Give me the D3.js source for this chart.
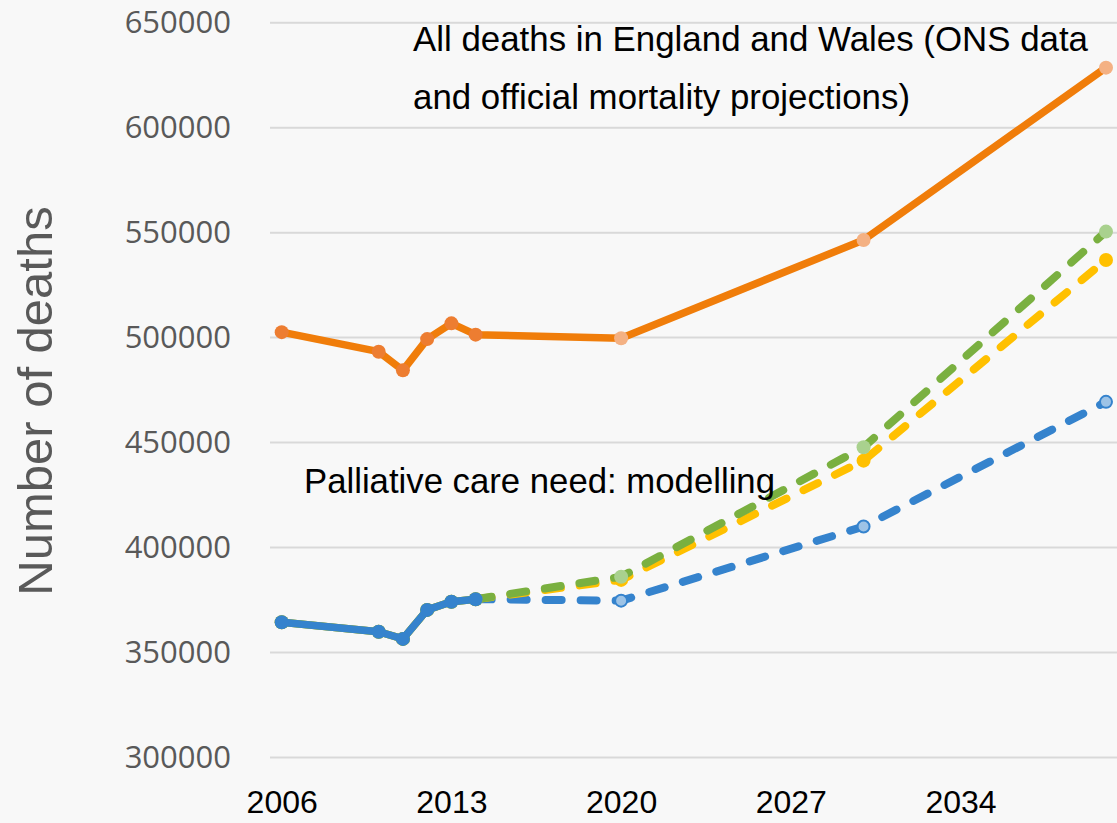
<!DOCTYPE html>
<html><head><meta charset="utf-8">
<script src="https://cdn.jsdelivr.net/npm/d3@7"></script>
<style>
html,body{margin:0;padding:0;background:#f8f8f8;}
svg{display:block;}
</style></head>
<body>
<svg id="chart" width="1117" height="823"></svg>
<script>
// ---- data ----
const histYears = [2006, 2010, 2011, 2012, 2013, 2014];
const allDeathsHist = [502600, 493300, 484400, 499300, 506800, 501400];
const projYears = [2020, 2030, 2040];
const allDeathsProj = [499700, 546500, 628600];
const pcNeedHist = [364400, 359900, 356500, 370300, 374200, 375400];
const modelYears = [2014, 2020, 2030, 2040];
const modelBlue = [375400, 374700, 410000, 469400];
const modelYellow = [375400, 384600, 441400, 537000];
const modelGreen = [375400, 386100, 447800, 550500];
const xTicks = [2006, 2013, 2020, 2027, 2034];
const yTicks = [300000, 350000, 400000, 450000, 500000, 550000, 600000, 650000];
const titleLines = ["All deaths in England and Wales (ONS data", "and official mortality projections)"];
const modelLabel = "Palliative care need: modelling";
const yLabel = "Number of deaths";

// ---- scales ----
const svg = d3.select("#chart");
const x = d3.scaleLinear().domain([2006, 2040]).range([281.7, 1106]);
const y = d3.scaleLinear().domain([300000, 650000]).range([757.5, 22.7]);

svg.append("rect").attr("width", 1117).attr("height", 823).attr("fill", "#f8f8f8");

// gridlines
svg.append("g").selectAll("line").data(yTicks).join("line")
  .attr("x1", 270).attr("x2", 1117)
  .attr("y1", d => y(d)).attr("y2", d => y(d))
  .attr("stroke", "#d9d9d9").attr("stroke-width", 2);

// y axis labels
const yAxis = d3.axisLeft(y).tickValues(yTicks).tickSize(0).tickPadding(0).tickFormat(d3.format("d"));
const gy = svg.append("g").attr("transform", "translate(231,0)").call(yAxis);
gy.select(".domain").remove();
gy.selectAll("text").attr("fill", "#595959")
  .style("font-family", "'Open Sans', sans-serif").style("font-size", "31px");

// x axis labels
const xAxis = d3.axisBottom(x).tickValues(xTicks).tickSize(0).tickPadding(0).tickFormat(d3.format("d"));
const gx = svg.append("g").attr("transform", "translate(0,790)").call(xAxis);
gx.select(".domain").remove();
gx.selectAll("text").attr("fill", "#000").attr("dy", "0.71em")
  .style("font-family", "'Liberation Sans', Arial, sans-serif").style("font-size", "32px");

// y axis title
svg.append("text")
  .attr("transform", "translate(52,401) rotate(-90)")
  .attr("text-anchor", "middle")
  .attr("fill", "#595959")
  .style("font-family", "'Liberation Sans', Arial, sans-serif").style("font-size", "49px")
  .text(yLabel);

const line = d3.line().x(d => x(d[0])).y(d => y(d[1]));
const zip = (a, b) => a.map((v, i) => [v, b[i]]);

// dashed model series
const dashed = [
  {vals: modelBlue, color: "#3583cd", marker: "#9dc3e6", stroke: "#3583cd"},
  {vals: modelYellow, color: "#ffc000", marker: "#ffc000", stroke: "none"},
  {vals: modelGreen, color: "#7ab040", marker: "#a9d18e", stroke: "none"}
];
dashed.forEach(s => {
  const pts = zip(modelYears, s.vals);
  svg.append("path").attr("d", line(pts)).attr("fill", "none")
    .attr("stroke", s.color).attr("stroke-width", 8)
    .attr("stroke-linecap", "round").attr("stroke-dasharray", "16,19");
  svg.append("g").selectAll("circle").data(pts.slice(1)).join("circle")
    .attr("cx", d => x(d[0])).attr("cy", d => y(d[1]))
    .attr("r", s.stroke === "none" ? 7 : 6)
    .attr("fill", s.marker)
    .attr("stroke", s.stroke).attr("stroke-width", s.stroke === "none" ? 0 : 2);
});

// historical palliative care need (three overlaid series)
["#ffc000", "#7ab040", "#3583cd"].forEach(c => {
  const pts = zip(histYears, pcNeedHist);
  svg.append("path").attr("d", line(pts)).attr("fill", "none")
    .attr("stroke", c).attr("stroke-width", 7.5).attr("stroke-linejoin", "round");
  svg.append("g").selectAll("circle").data(pts).join("circle")
    .attr("cx", d => x(d[0])).attr("cy", d => y(d[1])).attr("r", 7).attr("fill", c);
});

// all deaths
const allPts = zip(histYears, allDeathsHist).concat(zip(projYears, allDeathsProj));
svg.append("path").attr("d", line(allPts)).attr("fill", "none")
  .attr("stroke", "#f07d0a").attr("stroke-width", 7.5).attr("stroke-linejoin", "round");
svg.append("g").selectAll("circle").data(zip(histYears, allDeathsHist)).join("circle")
  .attr("cx", d => x(d[0])).attr("cy", d => y(d[1])).attr("r", 7).attr("fill", "#ed7d31");
svg.append("g").selectAll("circle").data(zip(projYears, allDeathsProj)).join("circle")
  .attr("cx", d => x(d[0])).attr("cy", d => y(d[1])).attr("r", 7).attr("fill", "#f4b183");

// annotations
const ann = svg.append("g").attr("fill", "#000")
  .style("font-family", "'Liberation Sans', Arial, sans-serif").style("font-size", "35px");
ann.append("text").attr("x", 413).attr("y", 51).attr("textLength", 675)
  .attr("lengthAdjust", "spacingAndGlyphs").text(titleLines[0]);
ann.append("text").attr("x", 413).attr("y", 109).attr("textLength", 497)
  .attr("lengthAdjust", "spacingAndGlyphs").text(titleLines[1]);
ann.append("text").attr("x", 304).attr("y", 493).attr("textLength", 471)
  .attr("lengthAdjust", "spacingAndGlyphs").text(modelLabel);
</script>
</body></html>
